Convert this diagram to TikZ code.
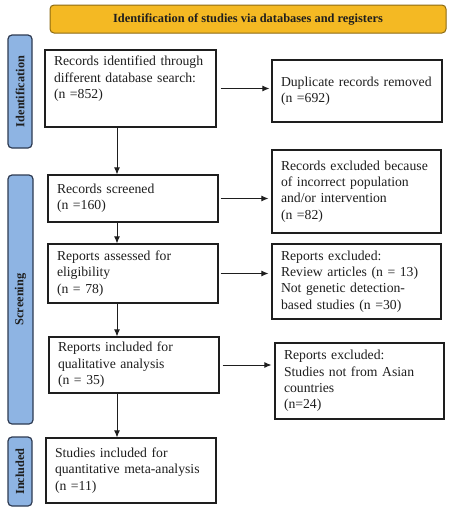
\documentclass[tikz,border=0pt]{standalone}
\usepackage{fontspec}
\setmainfont{Liberation Serif}
\usetikzlibrary{arrows.meta,calc}
\definecolor{gold}{HTML}{F4B923}
\definecolor{goldline}{HTML}{8C6A12}
\definecolor{sideblue}{HTML}{8EB4E3}
\definecolor{sideline}{HTML}{2E3B52}
\definecolor{ink}{HTML}{1E1E1E}
\begin{document}
\begin{tikzpicture}[x=1pt,y=-1pt,
  box/.style={draw=ink, line width=1.2pt, text=ink, align=left, inner xsep=9pt, inner ysep=3pt,
    font=\fontsize{13.7}{16.4}\selectfont},
  side/.style={draw=sideline, fill=sideblue, line width=1.2pt, rounded corners=4pt, rotate=90,
    font=\bfseries\fontsize{12.3}{14}\selectfont, text=ink, inner sep=0pt},
  titlebox/.style={draw=goldline, fill=gold, line width=1pt, rounded corners=4pt,
    font=\bfseries\fontsize{12.4}{14}\selectfont, text=ink, inner sep=0pt},
  arr/.style={draw=ink, line width=0.9pt, -{Latex[length=7pt,width=6pt]}},
]
\useasboundingbox (0,0) rectangle (450,512);
% title and side labels
\node[titlebox, minimum width=396pt, minimum height=28pt] (title) at (248,19)
  {Identification of studies via databases and registers};
\node[side, minimum width=113pt, minimum height=24pt] (sideI) at (20,91.5) {Identification};
\node[side, minimum width=249pt, minimum height=25pt] (sideS) at (20.5,299.5) {Screening};
\node[side, minimum width=69pt, minimum height=24pt] (sideInc) at (20,471.5) {Included};
% left column
\node[box, minimum width=171pt, minimum height=77pt, text width=153pt] (b1) at (130.5,88.5)
  {\parbox[c][65pt][t]{153pt}{Records identified through\\different database search:\\(n =852)}};
\node[box, minimum width=170pt, minimum height=47pt, text width=152pt] (scr) at (133,198.5)
  {Records screened\\(n =160)};
\node[box, minimum width=170pt, minimum height=59pt, text width=152pt] (ass) at (133,273.5)
  {Reports assessed for\\eligibility\\(n = 78)};
\node[box, minimum width=170pt, minimum height=56pt, text width=152pt] (qual) at (134,365)
  {Reports included for\\qualitative analysis\\(n = 35)};
\node[box, minimum width=170pt, minimum height=65pt, text width=152pt] (stud) at (131,470.5)
  {Studies included for\\quantitative meta-analysis\\(n =11)};
% right column
\node[box, minimum width=170pt, minimum height=62pt, text width=152pt] (dup) at (357,91)
  {Duplicate records removed\\(n =692)};
\node[box, minimum width=169pt, minimum height=83pt, text width=151pt] (ex1) at (356.5,191.5)
  {Records excluded because\\of incorrect population\\and/or intervention\\(n =82)};
\node[box, minimum width=169pt, minimum height=75pt, text width=151pt] (ex2) at (356.5,281.5)
  {Reports excluded:\\Review articles (n = 13)\\Not genetic detection-\\based studies (n =30)};
\node[box, minimum width=169pt, minimum height=76pt, text width=151pt] (ex3) at (359.5,381)
  {Reports excluded:\\Studies not from Asian\\countries\\(n=24)};
% connectors
\coordinate (vx) at (117,0);
\draw[arr] (b1.south -| vx) -- (scr.north -| vx);
\draw[arr] (scr.south -| vx) -- (ass.north -| vx);
\draw[arr] (ass.south -| vx) -- (qual.north -| vx);
\draw[arr] (qual.south -| vx) -- (stud.north -| vx);
\draw[arr, shorten <=4pt, shorten >=2pt] (b1.east) -- (b1.east -| dup.west);
\draw[arr, shorten <=2pt, shorten >=3pt] (scr.east) -- (scr.east -| ex1.west);
\draw[arr, shorten <=2pt, shorten >=3pt] (ass.east) -- (ass.east -| ex2.west);
\draw[arr, shorten <=3pt, shorten >=3pt] (qual.east) -- (qual.east -| ex3.west);
\end{tikzpicture}
\end{document}
